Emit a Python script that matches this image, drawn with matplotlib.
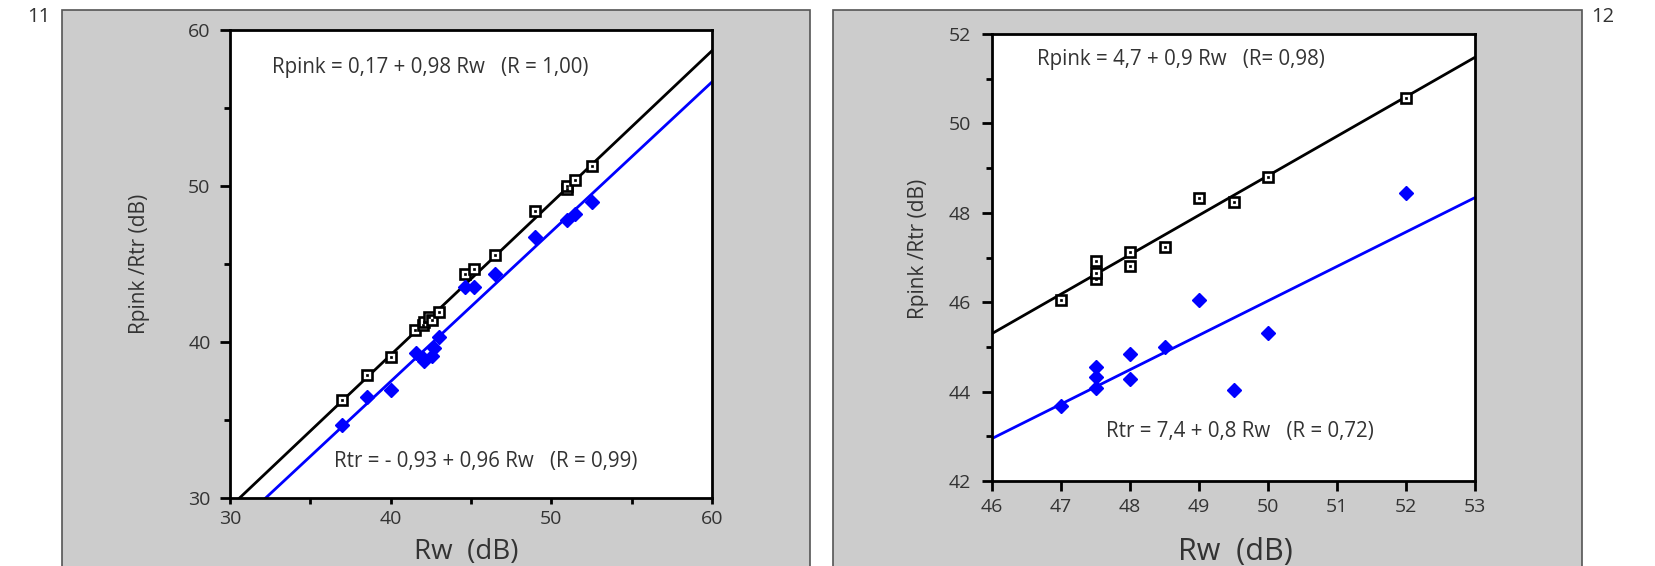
import matplotlib.pyplot as plt
import matplotlib.patches as patches
import numpy as np

# --- Data ---
# chart 11
rw_pink_11 = [37, 38.5, 40, 41.5, 42, 42.1, 42.4, 42.6, 43, 44.6, 45.2, 46.5, 49, 51, 51, 51.5, 52.5]
rpink_11 = [36.3, 37.9, 39.05, 40.8, 41.1, 41.3, 41.6, 41.4, 41.9, 44.35, 44.7, 45.6, 48.4, 49.8, 50.0, 50.4, 51.3]
rw_tr_11 = [37, 38.5, 40, 41.6, 42, 42.1, 42.6, 42.7, 43, 44.6, 45.2, 46.5, 49, 51, 51.5, 52.5]
rtr_11 = [34.7, 36.45, 36.9, 39.3, 39.0, 38.8, 39.1, 39.6, 40.3, 43.5, 43.5, 44.35, 46.7, 47.8, 48.2, 48.95]
fit_pink_11 = (0.17, 0.975)
fit_tr_11 = (-0.93, 0.96)

# chart 12
rw_pink_12 = [47, 47.5, 47.5, 47.5, 48, 48, 48.5, 49, 49.5, 50, 52]
rpink_12 = [46.06, 46.51, 46.66, 46.92, 46.82, 47.12, 47.23, 48.34, 48.24, 48.79, 50.56]
rw_tr_12 = [47, 47.5, 47.5, 47.5, 48, 48, 48.5, 49, 49.5, 50, 52]
rtr_12 = [43.68, 44.07, 44.33, 44.55, 44.28, 44.85, 45.0, 46.06, 44.03, 45.3, 48.44]
fit_pink_12 = (4.68, 0.883)
fit_tr_12 = (7.53, 0.77)

txt_color = '#333333'
plt.rcParams['font.family'] = ['Open Sans', 'DejaVu Sans']
plt.rcParams['text.color'] = txt_color
plt.rcParams['axes.labelcolor'] = txt_color
plt.rcParams['xtick.color'] = 'black'
plt.rcParams['ytick.color'] = 'black'
plt.rcParams['xtick.labelcolor'] = txt_color
plt.rcParams['ytick.labelcolor'] = txt_color

W, H = 1655, 566
fig = plt.figure(figsize=(W / 100, H / 100), dpi=100)

# gray panels behind the charts
for x0, x1 in [(62, 810), (833, 1582)]:
    fig.patches.append(patches.Rectangle((x0 / W, -0.05), (x1 - x0) / W, 1.05 - 10 / H,
                                         transform=fig.transFigure, facecolor='#cccccc',
                                         edgecolor='#555555', linewidth=1.2, zorder=0))

fig.text(39 / W, 1 - 17 / H, '11', fontsize=14.5, ha='center', va='center')
fig.text(1603 / W, 1 - 17 / H, '12', fontsize=14.5, ha='center', va='center')

LW = 2.0


def draw(ax, rw_p, rp, rw_t, rt, fit_p, fit_t, xlim):
    ax.set_zorder(2)
    xs = np.array(xlim, dtype=float)
    ax.plot(xs, fit_p[0] + fit_p[1] * xs, color='black', lw=LW, zorder=2)
    ax.plot(xs, fit_t[0] + fit_t[1] * xs, color='#0000ff', lw=LW, zorder=2)
    ax.plot(rw_p, rp, ls='none', marker='s', ms=7.8, mfc='white', mec='black', mew=1.9, zorder=3)
    ax.plot(rw_p, rp, ls='none', marker='s', ms=1.6, mfc='black', mec='black', mew=0.5, zorder=4)
    ax.plot(rw_t, rt, ls='none', marker='D', ms=7.5, mfc='#0000ff', mec='#0000ff', zorder=3)
    ax.set_xlim(*xlim)
    for s in ax.spines.values():
        s.set_linewidth(LW)
    ax.set_facecolor('white')


# --- chart 11 ---
ax1 = fig.add_axes([230 / W, 1 - 498 / H, 482 / W, 468 / H])
draw(ax1, rw_pink_11, rpink_11, rw_tr_11, rtr_11, fit_pink_11, fit_tr_11, (30, 60))
ax1.set_ylim(30, 60)
ax1.set_xticks([30, 40, 50, 60])
ax1.set_xticks([35, 45, 55], minor=True)
ax1.set_yticks([30, 40, 50, 60])
ax1.set_yticks([35, 45, 55], minor=True)
ax1.tick_params(axis='x', which='both', length=4, width=LW, labelsize=14, pad=5)
ax1.tick_params(axis='y', which='major', length=7, width=LW, labelsize=14, pad=7)
ax1.tick_params(axis='y', which='minor', length=4, width=LW)
ax1.set_xlabel('Rw  (dB)', fontsize=20)
ax1.xaxis.set_label_coords(0.49, -0.085)
ax1.set_ylabel('Rpink /Rtr (dB)', fontsize=15)
ax1.yaxis.set_label_coords(-0.167, 0.5)
ax1.text((272 - 230) / 482, 1 - (67 - 30) / 468, 'Rpink = 0,17 + 0,98 Rw   (R = 1,00)',
         fontsize=14.8, va='center', transform=ax1.transAxes)
ax1.text((334 - 230) / 482, 1 - (462 - 30) / 468, 'Rtr = - 0,93 + 0,96 Rw   (R = 0,99)',
         fontsize=14.8, va='center', transform=ax1.transAxes)

# --- chart 12 ---
ax2 = fig.add_axes([992 / W, 1 - 481 / H, 483 / W, 447 / H])
draw(ax2, rw_pink_12, rpink_12, rw_tr_12, rtr_12, fit_pink_12, fit_tr_12, (46, 53))
ax2.set_ylim(42, 52)
ax2.set_xticks(np.arange(46, 54))
ax2.set_yticks([42, 44, 46, 48, 50, 52])
ax2.set_yticks([43, 45, 47, 49, 51], minor=True)
ax2.tick_params(axis='x', which='major', length=7, width=LW, labelsize=14, pad=5)
ax2.tick_params(axis='y', which='major', length=7, width=LW, labelsize=14, pad=8)
ax2.tick_params(axis='y', which='minor', length=4, width=LW)
ax2.set_xlabel('Rw  (dB)', fontsize=22)
ax2.xaxis.set_label_coords(0.503, -0.125)
ax2.set_ylabel('Rpink /Rtr (dB)', fontsize=15)
ax2.yaxis.set_label_coords(-0.131, 0.52)
ax2.text((1037 - 992) / 483, 1 - (60 - 34) / 447, 'Rpink = 4,7 + 0,9 Rw   (R= 0,98)',
         fontsize=14.8, va='center', transform=ax2.transAxes)
ax2.text((1106 - 992) / 483, 1 - (432 - 34) / 447, 'Rtr = 7,4 + 0,8 Rw   (R = 0,72)',
         fontsize=14.8, va='center', transform=ax2.transAxes)

fig.savefig('out.png', dpi=100)
